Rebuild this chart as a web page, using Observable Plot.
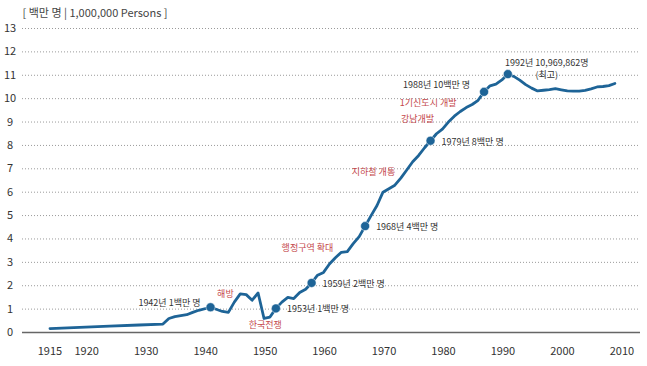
<!DOCTYPE html>
<html>
<head>
<meta charset="utf-8">
<script src="https://cdn.jsdelivr.net/npm/d3@7"></script>
<script src="https://cdn.jsdelivr.net/npm/@observablehq/plot@0.6"></script>
<style>
  html, body { margin: 0; padding: 0; background: #fff; }
</style>
</head>
<body>
<div id="chart"></div>
<script>
const title = "[ 백만 명 | 1,000,000 Persons ]";

const years = [1915, 1920, 1925, 1930, 1934, 1935, 1936, 1938, 1939, 1940, 1942, 1944, 1945, 1946, 1947, 1948, 1949, 1950,
  1951, 1952, 1953, 1954, 1955, 1956, 1957, 1958, 1959, 1960, 1961, 1962, 1963, 1964, 1965, 1966, 1967, 1968, 1969, 1970,
  1971, 1972, 1973, 1974, 1975, 1976, 1977, 1978, 1979, 1980, 1981, 1982, 1983, 1984, 1985, 1986, 1987, 1988, 1989, 1990,
  1991, 1992, 1993, 1994, 1995, 1996, 1997, 1998, 1999, 2000, 2001, 2002, 2003, 2004, 2005, 2006, 2007, 2008, 2009, 2010];
const pop = [0.17, 0.22, 0.27, 0.32, 0.36, 0.6, 0.68, 0.76, 0.86, 0.95, 1.08, 0.9, 0.86, 1.3, 1.65, 1.62, 1.38, 1.69,
  0.6, 0.66, 1.03, 1.3, 1.5, 1.45, 1.71, 1.85, 2.12, 2.45, 2.57, 2.93, 3.2, 3.43, 3.46, 3.8, 4.1, 4.55, 5.0, 5.43,
  6.0, 6.15, 6.3, 6.6, 6.95, 7.3, 7.57, 7.9, 8.2, 8.5, 8.7, 9.0, 9.25, 9.45, 9.62, 9.75, 9.93, 10.29, 10.55, 10.62,
  10.8, 11.05, 10.95, 10.79, 10.6, 10.45, 10.33, 10.36, 10.39, 10.43, 10.38, 10.33, 10.32, 10.32, 10.35, 10.42, 10.5, 10.52, 10.56, 10.65];

const markerYears = [1942, 1953, 1959, 1968, 1979, 1988, 1992];
const markerLabels = ["1942년 1백만 명", "1953년 1백만 명", "1959년 2백만 명", "1968년 4백만 명",
  "1979년 8백만 명", "1988년 10백만 명", "1992년 10,969,862명\n(최고)"];

const eventLabels = ["해방", "한국전쟁", "행정구역 확대", "지하철 개통", "강남개발", "1기신도시 개발"];
const eventYears = [1944.5, 1951.2, 1958.3, 1969.4, 1976.8, 1978.6];
const eventValues = [1.66, 0.33, 3.59, 6.85, 9.12, 9.8];

const yTicks = d3.range(0, 14);
const xTicks = [1915, 1920, 1930, 1940, 1950, 1960, 1970, 1980, 1990, 2000, 2010];

const data = years.map((y, i) => ({year: y, pop: pop[i]}));
const markers = markerYears.map((y, i) => ({year: y, pop: pop[years.indexOf(y)], label: markerLabels[i]}));
const events = eventLabels.map((l, i) => ({label: l, year: eventYears[i], pop: eventValues[i]}));

const lineColor = "#1e6497";
const red = "#c4474b";
const txt = "#333";

const byYear = (ys) => markers.filter(d => ys.includes(d.year));

const chart = Plot.plot({
  width: 647,
  height: 366,
  marginLeft: 22,
  marginRight: 7,
  marginTop: 28,
  marginBottom: 34,
  x: {domain: [1910.38, 2014.31]},
  y: {domain: [0, 13]},
  style: {fontFamily: "'Noto Sans CJK KR', 'Noto Sans', sans-serif", fontSize: "11px", color: txt, background: "#fff"},
  marks: [
    Plot.ruleY(yTicks.slice(1), {stroke: "#9a9a9a", strokeDasharray: "1,2", strokeWidth: 1}),
    Plot.ruleY([0], {stroke: "#666", strokeWidth: 1.5}),
    Plot.axisY(yTicks, {tickSize: 0, tickPadding: 12.5, textAnchor: "middle", fontSize: 11, fill: txt, label: null}),
    Plot.axisX([1915], {tickSize: 0, tickPadding: 15, fontSize: 11, fill: txt, label: null, tickFormat: d => String(d)}),
    Plot.axisX(xTicks.slice(1), {tickSize: 0, tickPadding: 15, dx: 7, fontSize: 11, fill: txt, label: null, tickFormat: d => String(d)}),
    Plot.line(data, {x: "year", y: "pop", stroke: lineColor, strokeWidth: 2.8, curve: "linear"}),
    Plot.dot(markers, {x: "year", y: "pop", r: 4.5, fill: lineColor, stroke: "#fff", strokeWidth: 0.5}),
    Plot.text(byYear([1942]), {x: "year", y: "pop", text: "label", textAnchor: "end", dx: -10, dy: -4, fontSize: 9, fill: txt}),
    Plot.text(byYear([1953]), {x: "year", y: "pop", text: "label", textAnchor: "start", dx: 11, dy: 1, fontSize: 9, fill: txt}),
    Plot.text(byYear([1959, 1968, 1979]), {x: "year", y: "pop", text: "label", textAnchor: "start", dx: 11, dy: 1, fontSize: 9, fill: txt}),
    Plot.text(byYear([1988]), {x: "year", y: "pop", text: "label", textAnchor: "end", dx: -14, dy: -7, fontSize: 9, fill: txt}),
    Plot.text(byYear([1992]), {x: "year", y: "pop", text: "label", textAnchor: "middle", dx: 39, dy: -6, lineHeight: 1.4, fontSize: 9, fill: txt}),
    Plot.text(events, {x: "year", y: "pop", text: "label", textAnchor: "middle", fontSize: 9, fill: red}),
    Plot.text([title], {frameAnchor: "top-left", dy: -15, lineAnchor: "middle", textAnchor: "start", fontSize: 11, fill: "#444"})
  ]
});
document.getElementById("chart").appendChild(chart);
</script>
</body>
</html>
